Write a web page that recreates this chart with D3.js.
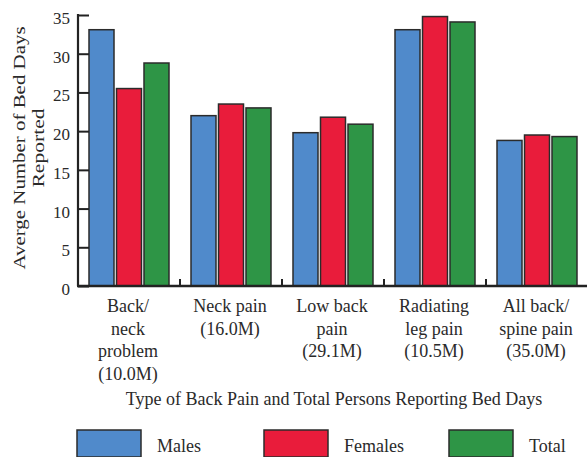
<!DOCTYPE html>
<html>
<head>
<meta charset="utf-8">
<script src="https://cdn.jsdelivr.net/npm/d3@7/dist/d3.min.js"></script>
<style>
  html, body { margin: 0; padding: 0; background: #fff; }
  svg { display: block; }
  text { font-family: "Liberation Serif", "DejaVu Serif", serif; fill: #2a2a2a; }
</style>
</head>
<body>
<svg id="chart" width="587" height="457"></svg>
<script>
const categories = [
  ["Back/", "neck", "problem", "(10.0M)"],
  ["Neck pain", "(16.0M)"],
  ["Low back", "pain", "(29.1M)"],
  ["Radiating", "leg pain", "(10.5M)"],
  ["All back/", "spine pain", "(35.0M)"]
];
const seriesNames = ["Males", "Females", "Total"];
const males   = [33.1, 22.0, 19.8, 33.1, 18.8];
const females = [25.5, 23.5, 21.8, 34.8, 19.5];
const totals  = [28.8, 23.0, 20.9, 34.1, 19.3];
const yTicks = [0, 5, 10, 15, 20, 25, 30, 35];
const colors = ["#508ACB", "#E91C3B", "#2E9546"];
const xTitle = "Type of Back Pain and Total Persons Reporting Bed Days";
const yTitle = ["Averge Number of Bed Days", "Reported"];

const series = [males, females, totals];
const svg = d3.select("#chart");

const x0 = d3.scaleBand().domain(d3.range(categories.length)).range([78, 588]).paddingInner(0).paddingOuter(0);
const x1 = d3.scaleBand().domain(d3.range(seriesNames.length)).range([11, 91]).paddingInner(0.0909).paddingOuter(0);
const y = d3.scaleLinear().domain([0, 35]).range([286, 15]);

// bars
const groups = svg.append("g").selectAll("g").data(categories).join("g")
  .attr("transform", (d, i) => `translate(${x0(i)},0)`);
groups.selectAll("rect")
  .data((d, i) => series.map((s, k) => ({k, v: s[i]})))
  .join("rect")
  .attr("x", d => x1(d.k))
  .attr("width", x1.bandwidth())
  .attr("y", d => y(d.v))
  .attr("height", d => y(0) - y(d.v))
  .attr("fill", d => colors[d.k])
  .attr("stroke", "#2b2b2b")
  .attr("stroke-width", 1.5);

// y axis (ticks inward)
const yAxis = d3.axisRight(y).tickValues(yTicks).tickSize(11).tickFormat("");
const yg = svg.append("g").attr("transform", "translate(78,0)").call(yAxis);
yg.select(".domain").remove();
yg.selectAll(".tick line").attr("stroke", "#222").attr("stroke-width", 2);
svg.append("line").attr("x1", 78).attr("x2", 78).attr("y1", y(35) - 1).attr("y2", y(0))
  .attr("stroke", "#222").attr("stroke-width", 2.2);
svg.append("g").selectAll("text").data(yTicks).join("text")
  .attr("x", 70).attr("y", d => y(d) + 9)
  .attr("text-anchor", "end")
  .style("font-size", "17px")
  .text(d => d);

// x baseline with separator ticks
svg.append("line").attr("x1", 77).attr("x2", 587).attr("y1", y(0)).attr("y2", y(0))
  .attr("stroke", "#222").attr("stroke-width", 2.6);
svg.append("g").selectAll("line").data(d3.range(1, categories.length)).join("line")
  .attr("x1", i => x0(i)).attr("x2", i => x0(i))
  .attr("y1", y(0)).attr("y2", y(0) - 7)
  .attr("stroke", "#222").attr("stroke-width", 2);

// category labels
const lab = svg.append("g").selectAll("text").data(categories).join("text")
  .attr("text-anchor", "middle")
  .style("font-size", "18px")
  .attr("transform", (d, i) => `translate(${x0(i) + 50},312)`);
lab.selectAll("tspan").data(d => d).join("tspan")
  .attr("x", 0).attr("y", (d, j) => j * 22.7)
  .text(d => d);

// x title
svg.append("text").attr("x", 334).attr("y", 405).attr("text-anchor", "middle")
  .style("font-size", "18px").text(xTitle);

// y title
svg.append("text").attr("transform", "translate(25,148) rotate(-90)")
  .attr("text-anchor", "middle").style("font-size", "16px")
  .attr("textLength", 243).attr("lengthAdjust", "spacingAndGlyphs")
  .text(yTitle[0]);
svg.append("text").attr("transform", "translate(44,148) rotate(-90)")
  .attr("text-anchor", "middle").style("font-size", "16px")
  .attr("textLength", 79).attr("lengthAdjust", "spacingAndGlyphs")
  .text(yTitle[1]);

// legend
const legX = [77, 264, 449];
const leg = svg.append("g").selectAll("g").data(seriesNames).join("g")
  .attr("transform", (d, i) => `translate(${legX[i]},430)`);
leg.append("rect").attr("width", 64).attr("height", 27)
  .attr("fill", (d, i) => colors[i]).attr("stroke", "#2b2b2b").attr("stroke-width", 1.5);
leg.append("text").attr("x", 80).attr("y", 22).style("font-size", "18px").text(d => d);
</script>
</body>
</html>
